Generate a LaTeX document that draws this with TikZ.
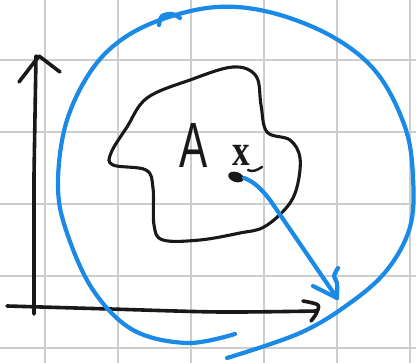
\documentclass[tikz,border=0pt]{standalone}
\usepackage{fontspec}
\newfontfamily\handfont{Liberation Sans}
\newfontfamily\xfont{Liberation Serif}
\definecolor{penblue}{RGB}{27,137,230}
\definecolor{gridgray}{RGB}{205,205,205}
\definecolor{ink}{RGB}{25,25,25}
\tikzset{
  gridline/.style={gridgray, line width=1.2pt},
  inkline/.style={ink, line width=3.6pt, line cap=round, line join=round},
  blueline/.style={penblue, line width=4.2pt, line cap=round, line join=round},
}
\begin{document}
\begin{tikzpicture}[x=1pt,y=-1pt]
\useasboundingbox (0,0) rectangle (416,363);
\fill[white] (0,0) rectangle (416,363);
% grid
\foreach \gx in {45,118,191,264,337,410} \draw[gridline] (\gx,0) -- (\gx,363);
\foreach \gy in {60,132,204,276,348} \draw[gridline] (0,\gy) -- (416,\gy);
% axes
\draw[inkline] (34,314) -- (34,175) -- (36,56);
\draw[inkline] (19,82) -- (39,56) -- (60,72);
\draw[inkline] plot[smooth] coordinates {(7,306) (110,309) (220,312) (317,311)};
\draw[inkline] plot[smooth] coordinates {(303,301) (318,305) (316,314) (311,321)};
% blob
\draw[inkline, line width=3.1pt] plot[smooth cycle, tension=0.6] coordinates {
 (147,98) (190,80) (233,67) (256,76) (261,105) (267,132) (290,140) (300,158)
 (297,187) (287,207) (264,227) (240,233) (200,240) (163,240) (154,225) (153,188)
 (146,170) (113,165) (111,153) (127,127)};
% labels
\node[inner sep=0pt, ink] (A) at (194,145) {\handfont\fontsize{64}{64}\selectfont\scalebox{0.66}[1]{A}};
\node[inner sep=0pt, ink] (x) at (241,155) {\xfont\bfseries\fontsize{44}{44}\selectfont\scalebox{0.8}[1]{x}};
\draw[inkline, line width=2.4pt] (248,170) .. controls (252,172) and (256,171) .. (262,167);
% point
\fill[ink, rotate around={-18:(236,177)}] (236,177) ellipse [x radius=8pt, y radius=5pt];
\coordinate (p) at (244,178);
\coordinate (q) at (337,298);
% blue circle
\draw[blueline] plot[smooth, tension=0.6] coordinates {
 (235,334) (187,343) (133,330) (93,290) (67,233) (58,187) (65,127) (87,77)
 (117,43) (160,20) (217,7) (273,13) (333,37) (377,73) (405,127) (413,177)
 (410,227) (387,270) (350,303) (300,333) (227,358)};
\draw[blueline] plot[smooth] coordinates {(159,25) (162,16) (172,14) (180,18)};
% blue arrow
\draw[blueline] (p) .. controls (255,182) and (262,190) .. (270,200) -- (q);
\draw[blueline] (313,286) -- (q);
\draw[blueline] plot[smooth] coordinates {(338,268) (334,276) (337,283) (337,298)};
\end{tikzpicture}
\end{document}
